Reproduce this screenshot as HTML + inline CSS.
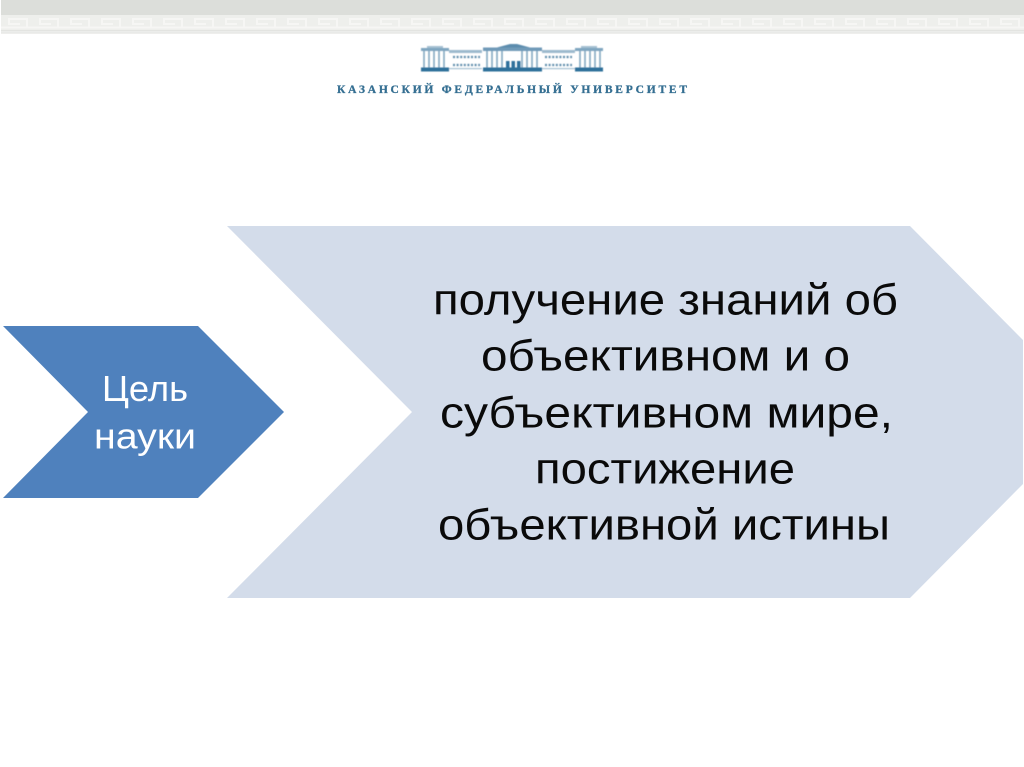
<!DOCTYPE html>
<html><head><meta charset="utf-8">
<style>html,body{margin:0;padding:0;background:#fff}svg{display:block}</style></head>
<body>
<svg width="1024" height="767" viewBox="0 0 1024 767" xmlns="http://www.w3.org/2000/svg">
<defs>
<pattern id="m" x="2" y="16" width="31" height="14" patternUnits="userSpaceOnUse">
<path d="M0 11.500H25V3H7V8H18" fill="none" stroke="#f6f6f4" stroke-width="2"/>
<path d="M25 11.500H31" fill="none" stroke="#f6f6f4" stroke-width="2"/>
</pattern>
<filter id="b" x="-5%" y="-5%" width="110%" height="110%"><feGaussianBlur stdDeviation="0.4"/></filter>
</defs>
<rect width="1024" height="767" fill="#fff"/>
<rect x="1" y="0" width="1023" height="15" fill="#dcdeda"/>
<rect x="1" y="15" width="1023" height="15" fill="#eeefec"/>
<rect x="1" y="15" width="1023" height="15" fill="url(#m)"/>
<rect x="1" y="30" width="1023" height="1.500" fill="#e3e4e1"/>
<rect x="1" y="31.500" width="1023" height="1" fill="#f6f6f5"/>
<rect x="1" y="32.500" width="1023" height="1" fill="#dcdeda"/>

<!-- logo building -->
<g filter="url(#b)">
<rect x="421" y="48" width="28" height="3" fill="#7fa6c0"/>
<rect x="427" y="46" width="16" height="2" fill="#a5c0d2"/>
<rect x="449" y="50" width="33" height="3" fill="#9dbacd"/>
<rect x="483" y="47.500" width="59" height="3.500" fill="#6f9ab8"/>
<path d="M497 47.500L510 44H517L530 47.500Z" fill="#5c8cad"/>
<rect x="542" y="50" width="33" height="3" fill="#9dbacd"/>
<rect x="575" y="48" width="28" height="3" fill="#7fa6c0"/>
<rect x="581" y="46" width="16" height="2" fill="#a5c0d2"/>
<g stroke="#7da3bd" stroke-width="1.500">
<path d="M424 51V68M429 51V68M434 51V68M439 51V68M444 51V68"/>
<path d="M580 51V68M585 51V68M590 51V68M595 51V68M600 51V68"/>
<path d="M487 51V68M492 51V68M497 51V68M502 51V68M522 51V68M527 51V68M532 51V68M537 51V68"/>
</g>
<rect x="506" y="61" width="3.500" height="7" fill="#2d6f9b"/>
<rect x="511.500" y="61" width="3.500" height="7" fill="#2d6f9b"/>
<rect x="517" y="61" width="3.500" height="7" fill="#2d6f9b"/>
<g fill="none" stroke="#5f8cab" stroke-width="2.200" stroke-dasharray="2 1.600">
<path d="M453 57H480M453 65H480M545 57H572M545 65H572"/>
</g>
<rect x="449" y="68" width="33" height="1.200" fill="#a5c0d2"/>
<rect x="542" y="68" width="33" height="1.200" fill="#a5c0d2"/>
<rect x="421" y="67.500" width="28" height="4" fill="#2f6f9a"/>
<rect x="483" y="67.500" width="59" height="4" fill="#2f6f9a"/>
<rect x="575" y="67.500" width="28" height="4" fill="#2f6f9a"/>
</g>
<text x="337" y="93" font-family="'Liberation Serif',serif" font-weight="bold" font-size="11.500" fill="#356f92" stroke="#356f92" stroke-width="0.300" textLength="350" lengthAdjust="spacing">КАЗАНСКИЙ  ФЕДЕРАЛЬНЫЙ  УНИВЕРСИТЕТ</text>

<!-- chevrons -->
<polygon points="227,226 910,226 1023,340 1023,484 910,598 227,598 412,412" fill="#d3dcea"/>
<polygon points="3,326 198,326 284,412 198,498 3,498 88,412" fill="#4f81bd"/>

<g font-family="'Liberation Sans',sans-serif">
<g font-size="36" fill="#fff">
<text x="102" y="401" textLength="86" lengthAdjust="spacingAndGlyphs">Цель</text>
<text x="94" y="448.500" textLength="102" lengthAdjust="spacingAndGlyphs">науки</text>
</g>
<g font-size="44" fill="#0a0a0a">
<text x="433" y="314.500" textLength="465" lengthAdjust="spacingAndGlyphs">получение знаний об</text>
<text x="434" y="370.500" textLength="416" lengthAdjust="spacingAndGlyphs" style="display:none"></text>
<text x="481" y="370.500" textLength="369" lengthAdjust="spacingAndGlyphs">объективном и о</text>
<text x="440" y="427.500" textLength="453" lengthAdjust="spacingAndGlyphs">субъективном мире,</text>
<text x="535" y="483.500" textLength="260" lengthAdjust="spacingAndGlyphs">постижение</text>
<text x="438" y="539.500" textLength="452" lengthAdjust="spacingAndGlyphs">объективной истины</text>
</g>
</g>
</svg>
</body></html>
